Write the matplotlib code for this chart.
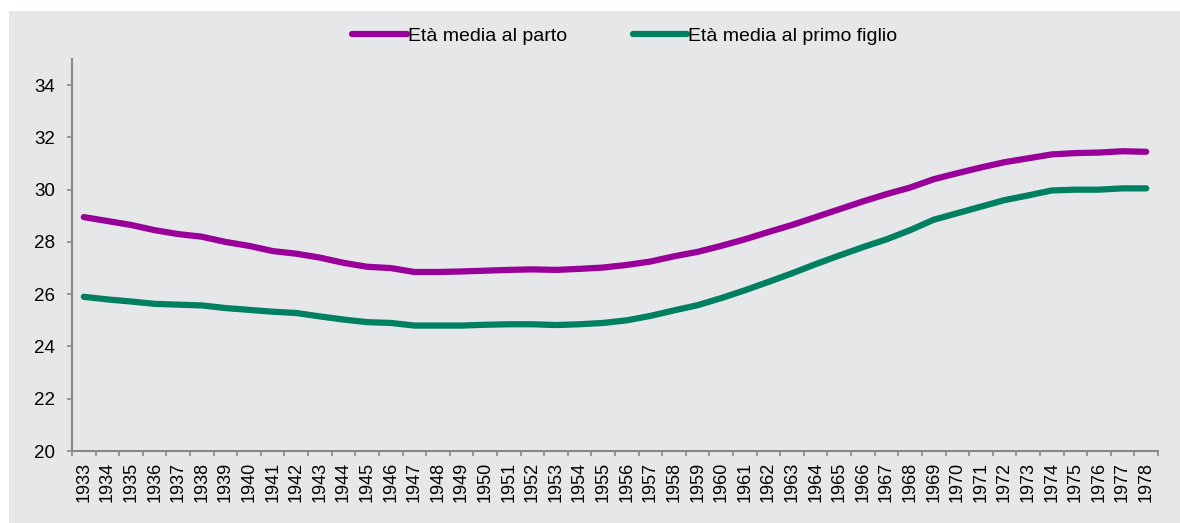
import matplotlib.pyplot as plt
from matplotlib.patches import Rectangle

plt.rcParams['font.family'] = ['Liberation Sans', 'DejaVu Sans']

years = [str(y) for y in range(1933, 1979)]

# eta media al parto
parto = [28.95, 28.8, 28.65, 28.45, 28.3, 28.2, 28.0, 27.85, 27.65, 27.55,
         27.4, 27.2, 27.05, 27.0, 26.85, 26.85, 26.87, 26.9, 26.93, 26.95,
         26.93, 26.97, 27.02, 27.12, 27.25, 27.45, 27.62, 27.85, 28.1, 28.38,
         28.65, 28.95, 29.25, 29.55, 29.83, 30.08, 30.4, 30.63, 30.85, 31.05,
         31.2, 31.35, 31.4, 31.42, 31.47, 31.45]

# eta media al primo figlio
primo = [25.9, 25.8, 25.72, 25.63, 25.6, 25.57, 25.47, 25.4, 25.33, 25.28,
         25.15, 25.03, 24.93, 24.9, 24.8, 24.8, 24.8, 24.83, 24.85, 24.85,
         24.82, 24.85, 24.9, 25.0, 25.17, 25.38, 25.58, 25.85, 26.15, 26.47,
         26.8, 27.15, 27.48, 27.8, 28.1, 28.45, 28.85, 29.1, 29.35, 29.6,
         29.78, 29.97, 30.0, 30.0, 30.05, 30.05]

bg = '#e6e7e9'
fig = plt.figure(figsize=(11.8, 5.23), dpi=100)
fig.patches.append(Rectangle((9 / 1180, 0), 1 - 9 / 1180, 1 - 11 / 523,
                             transform=fig.transFigure, facecolor=bg,
                             edgecolor='none', zorder=-10))
ax = fig.add_axes([72 / 1180, 1 - 451 / 523, (1158 - 72) / 1180, (451 - 59) / 523])
ax.set_facecolor(bg)

x = list(range(len(years)))
l1, = ax.plot(x, parto, color='#990099', lw=4.5, solid_capstyle='round',
              label='Età media al parto')
l2, = ax.plot(x, primo, color='#008060', lw=4.5, solid_capstyle='round',
              label='Età media al primo figlio')

ax.set_xlim(-0.5, len(years) - 0.5)
ax.set_ylim(20, 35)
ax.set_yticks(range(20, 35, 2))
ax.set_xticks(x)
ax.set_xticklabels(years, rotation=90, fontsize=13)
ax.set_xticks([i - 0.5 for i in range(len(years) + 1)], minor=True)
ax.tick_params(axis='x', which='major', length=0, pad=8)
ax.tick_params(axis='x', which='minor', length=3.3, color='#888888', width=1.2)
ax.tick_params(axis='y', labelsize=13.5, length=3.3, width=1.2,
               color='#888888', pad=9)

for s in ['top', 'right']:
    ax.spines[s].set_visible(False)
for s in ['left', 'bottom']:
    ax.spines[s].set_color('#888888')
    ax.spines[s].set_linewidth(1.5)

fig.legend(handles=[l1, l2], loc='center', bbox_to_anchor=(625 / 1180, 1 - 36 / 523),
           ncol=2, frameon=False, fontsize=14, handlelength=2.8,
           handletextpad=0.05, columnspacing=3.4)

fig.savefig('out.png', dpi=100)
